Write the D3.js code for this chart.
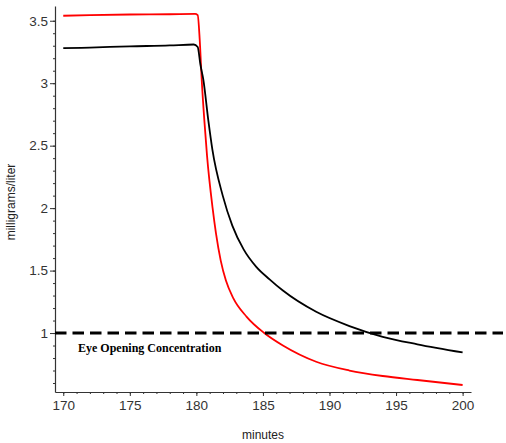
<!DOCTYPE html>
<html>
<head>
<meta charset="utf-8">
<script src="https://cdn.jsdelivr.net/npm/d3@7"></script>
<style>
  body { margin: 0; background: #fff; }
  svg text { font-family: "Liberation Sans", Arial, sans-serif; }
</style>
</head>
<body>
<div id="chart"></div>
<script>
// minutes / concentration (mg/l)
const redMinutes = [170, 172, 175, 178, 179.9, 180.1, 180.25, 180.4, 180.6, 180.8, 181.22, 181.47, 181.83, 182.22, 182.77, 183.78, 185.1, 186.5, 189, 191.5, 194, 196.6, 200];
const redValues  = [3.54, 3.545, 3.55, 3.552, 3.555, 3.545, 3.35, 3.03, 2.7, 2.42, 2.0, 1.8, 1.58, 1.42, 1.28, 1.13, 1.0, 0.9, 0.77, 0.7, 0.656, 0.624, 0.584];

const blackMinutes = [170, 172, 175, 178, 179.8, 180.1, 180.3, 180.52, 180.9, 181.2, 181.98, 182.7, 183.55, 184.5, 185.5, 186.5, 189, 191.5, 194, 196.6, 200];
const blackValues  = [3.28, 3.285, 3.295, 3.302, 3.31, 3.29, 3.15, 3.03, 2.7, 2.47, 2.1, 1.86, 1.67, 1.53, 1.43, 1.34, 1.17, 1.056, 0.97, 0.91, 0.845];

const xTicks = [170, 175, 180, 185, 190, 195, 200];
const yTicks = [1, 1.5, 2, 2.5, 3, 3.5];
const threshold = 1;
const thresholdLabel = "Eye Opening Concentration";

const width = 506, height = 443;

const svg = d3.select("#chart").append("svg")
  .attr("width", width)
  .attr("height", height);

const x = d3.scaleLinear().domain([169.38, 200.63]).range([55, 471]);
const y = d3.scaleLinear().domain([0.528, 3.618]).range([392, 6]);

// minor ticks first
svg.append("g")
  .attr("transform", "translate(0," + y.range()[0] + ")")
  .call(d3.axisBottom(x).tickValues(d3.range(170, 201, 1)).tickSize(2).tickFormat(""))
  .call(g => g.select(".domain").remove())
  .call(g => g.selectAll("line").attr("stroke", "#333"));

svg.append("g")
  .attr("transform", "translate(" + x.range()[0] + ",0)")
  .call(d3.axisLeft(y).tickValues(d3.range(6, 36).map(d => d / 10)).tickSize(2).tickFormat(""))
  .call(g => g.select(".domain").remove())
  .call(g => g.selectAll("line").attr("stroke", "#333"));

const xAxis = svg.append("g")
  .attr("transform", "translate(0," + y.range()[0] + ")")
  .call(d3.axisBottom(x).tickValues(xTicks).tickSize(4).tickPadding(4).tickSizeOuter(0).tickFormat(d3.format("d")));

const yAxis = svg.append("g")
  .attr("transform", "translate(" + x.range()[0] + ",0)")
  .call(d3.axisLeft(y).tickValues(yTicks).tickSize(5).tickPadding(2).tickSizeOuter(0).tickFormat(d => d));

[xAxis, yAxis].forEach(g => {
  g.select(".domain").attr("stroke", "#333").attr("stroke-width", 1.2);
  g.selectAll("line").attr("stroke", "#333");
  g.selectAll("text").attr("fill", "#333").style("font-size", "13.5px");
});

svg.append("text")
  .attr("x", 263)
  .attr("y", 439)
  .attr("text-anchor", "middle")
  .attr("fill", "#222")
  .style("font-size", "12px")
  .text("minutes");

svg.append("text")
  .attr("transform", "translate(15,202) rotate(-90)")
  .attr("text-anchor", "middle")
  .attr("fill", "#222")
  .style("font-size", "12px")
  .text("milligrams/liter");

const line = d3.line()
  .x(d => x(d[0]))
  .y(d => y(d[1]))
  .curve(d3.curveMonotoneX);

svg.append("path")
  .datum(redMinutes.map((m, i) => [m, redValues[i]]))
  .attr("fill", "none")
  .attr("stroke", "#ff0000")
  .attr("stroke-width", 1.8)
  .attr("d", line);

svg.append("path")
  .datum(blackMinutes.map((m, i) => [m, blackValues[i]]))
  .attr("fill", "none")
  .attr("stroke", "#000")
  .attr("stroke-width", 1.8)
  .attr("d", line);

// threshold line runs past the axis to the edge
svg.append("line")
  .attr("x1", x.range()[0])
  .attr("x2", 503)
  .attr("y1", y(threshold))
  .attr("y2", y(threshold))
  .attr("stroke", "#000")
  .attr("stroke-width", 3)
  .attr("stroke-dasharray", "11.5,6");

svg.append("text")
  .attr("x", 78)
  .attr("y", 352)
  .attr("fill", "#000")
  .style("font-family", "'Liberation Serif', 'Times New Roman', serif")
  .style("font-weight", "bold")
  .style("font-size", "12px")
  .text(thresholdLabel);
</script>
</body>
</html>
